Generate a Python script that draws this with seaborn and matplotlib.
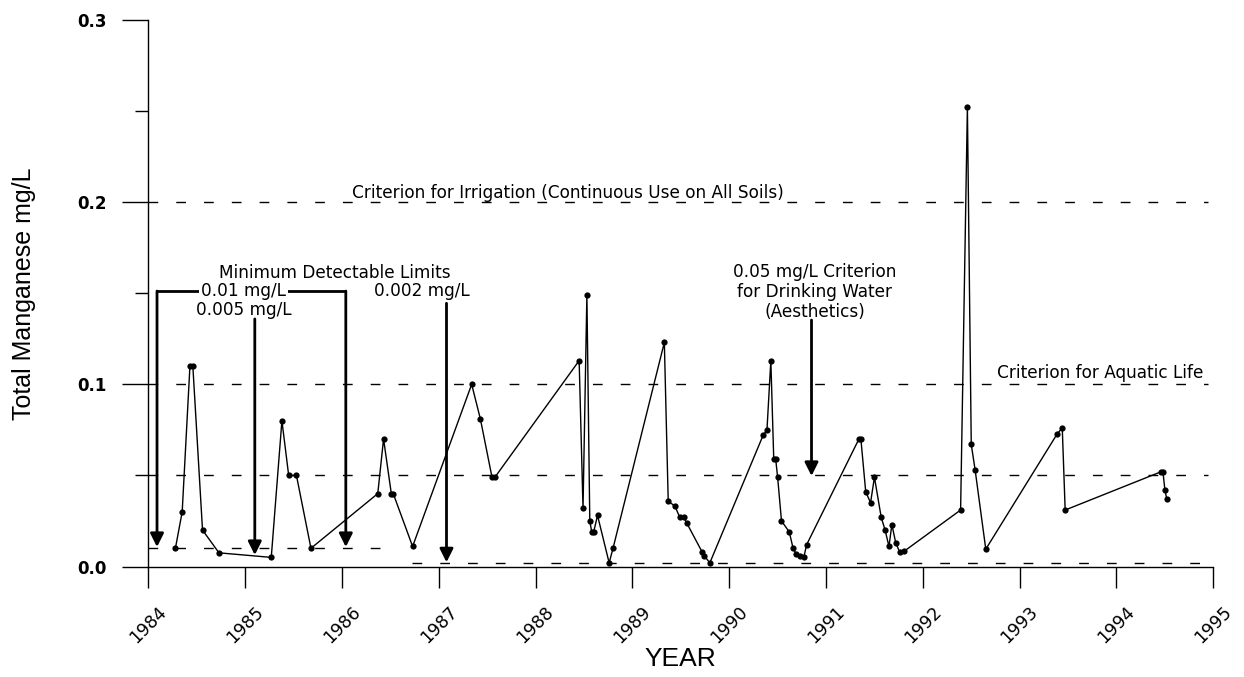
import matplotlib
matplotlib.use("Agg")
import matplotlib.pyplot as plt
import seaborn as sns
import pandas as pd

# ---- data ----
years = [
    1984.28, 1984.35, 1984.43, 1984.46, 1984.56, 1984.73, 1985.27, 1985.38, 1985.45, 1985.53,
    1985.68, 1986.37, 1986.43, 1986.51, 1986.53, 1986.73, 1987.34, 1987.43, 1987.55, 1987.58,
    1988.45, 1988.49, 1988.53, 1988.56, 1988.58, 1988.60, 1988.64, 1988.76, 1988.80,
    1989.33, 1989.37, 1989.44, 1989.49, 1989.53, 1989.56, 1989.72, 1989.74, 1989.80,
    1990.35, 1990.39, 1990.43, 1990.46, 1990.48, 1990.50, 1990.54, 1990.62, 1990.66, 1990.69,
    1990.73, 1990.77, 1990.80,
    1991.34, 1991.36, 1991.41, 1991.46, 1991.50, 1991.57, 1991.61, 1991.65, 1991.68, 1991.72,
    1991.76, 1991.81,
    1992.39, 1992.46, 1992.50, 1992.54, 1992.65,
    1993.39, 1993.44, 1993.47,
    1994.46, 1994.48, 1994.50, 1994.52,
]
manganese = [
    0.010, 0.030, 0.110, 0.110, 0.020, 0.0075, 0.005, 0.080, 0.050, 0.050,
    0.010, 0.040, 0.070, 0.040, 0.040, 0.011, 0.100, 0.081, 0.049, 0.049,
    0.113, 0.032, 0.149, 0.025, 0.019, 0.019, 0.028, 0.002, 0.010,
    0.123, 0.036, 0.033, 0.027, 0.027, 0.024, 0.008, 0.006, 0.002,
    0.072, 0.075, 0.113, 0.059, 0.059, 0.049, 0.025, 0.019, 0.010, 0.007,
    0.006, 0.005, 0.012,
    0.070, 0.070, 0.041, 0.035, 0.049, 0.027, 0.020, 0.011, 0.023, 0.013,
    0.008, 0.0085,
    0.031, 0.252, 0.067, 0.053, 0.0095,
    0.073, 0.076, 0.031,
    0.052, 0.052, 0.042, 0.037,
]
year_ticks = list(range(1984, 1996))
year_labels = [str(y) for y in year_ticks]
y_ticks = [0.0, 0.1, 0.2, 0.3]
y_labels = ["0.0", "0.1", "0.2", "0.3"]

# criteria / detection limits: (value, start year, end year)
criteria = [(0.2, 1984.0, 1994.95), (0.1, 1984.0, 1994.95), (0.05, 1984.0, 1994.95),
            (0.01, 1984.0, 1986.40), (0.002, 1986.72, 1994.95)]

df = pd.DataFrame({"year": years, "mn": manganese})

sns.set_style("ticks")
plt.rcParams["font.family"] = ["DejaVu Sans"]
plt.rcParams["text.color"] = "black"
plt.rcParams["axes.labelcolor"] = "black"
plt.rcParams["xtick.color"] = "black"
plt.rcParams["ytick.color"] = "black"

fig = plt.figure(figsize=(12.44, 6.77), dpi=100)
ax = fig.add_axes([148.3 / 1244, 1 - 566.5 / 677, (1213.3 - 148.3) / 1244, (566.5 - 20) / 677])

dash = (0, (7, 13))
for val, x0, x1 in criteria:
    ax.hlines(val, x0, x1, colors="black", linewidth=1.0, linestyles=[dash], zorder=1)

sns.lineplot(data=df, x="year", y="mn", ax=ax, color="black", linewidth=1.0,
             marker="o", markersize=4.5, markeredgewidth=0, estimator=None,
             sort=False, zorder=3)

ax.set_xlim(1984, 1995)
ax.set_ylim(0, 0.3)
sns.despine(ax=ax)
for s in ["left", "bottom"]:
    ax.spines[s].set_color("black")
    ax.spines[s].set_linewidth(1.0)

ax.set_xticks(year_ticks)
ax.set_xticklabels(year_labels, rotation=45, ha="center", fontsize=12.5, color="black")
ax.set_yticks(y_ticks)
ax.set_yticklabels(y_labels, fontsize=12, fontweight="bold", color="black")
ax.set_yticks([0.05, 0.15, 0.25], minor=True)
ax.tick_params(axis="x", direction="out", length=15, width=1, pad=11, colors="black")
ax.tick_params(axis="y", which="major", direction="out", length=19, width=1, pad=11, colors="black")
ax.tick_params(axis="y", which="minor", direction="out", length=9.5, width=1, colors="black")

ax.set_xlabel("YEAR", fontsize=19, family=["Liberation Sans", "DejaVu Sans"], color="black")
ax.xaxis.set_label_coords(0.5, -0.169)
ax.xaxis.label.set_verticalalignment("center")
ax.set_ylabel("Total Manganese mg/L", fontsize=18,
              family=["Liberation Sans", "DejaVu Sans"], color="black")
ax.yaxis.set_label_coords((24 - 148.3) / 1065, 0.5)
ax.yaxis.label.set_verticalalignment("center")

tfs = 12.2
kw = dict(color="black")
ax.text(1988.33, 0.2022, "Criterion for Irrigation (Continuous Use on All Soils)",
        ha="center", va="baseline", fontsize=tfs, zorder=2, **kw)
ax.text(1993.83, 0.1035, "Criterion for Aquatic Life", ha="center", va="baseline",
        fontsize=tfs, zorder=2, **kw)
ax.text(1985.93, 0.1582, "Minimum Detectable Limits", ha="center", va="baseline",
        fontsize=tfs, **kw)

# bracket for 0.01 mg/L
ax.plot([1984.09, 1986.04], [0.1512, 0.1512], color="black", lw=2, solid_capstyle="butt", zorder=4)
ax.text(1984.98, 0.1512, "0.01 mg/L", ha="center", va="center", fontsize=tfs, zorder=5,
        bbox=dict(facecolor="white", edgecolor="none", pad=1.5), **kw)
ax.text(1984.99, 0.1408, "0.005 mg/L", ha="center", va="center", fontsize=tfs, **kw)
ax.text(1986.83, 0.1512, "0.002 mg/L", ha="center", va="center", fontsize=tfs, **kw)
ax.text(1990.88, 0.1505, "0.05 mg/L Criterion\nfor Drinking Water\n(Aesthetics)",
        ha="center", va="center", fontsize=tfs, linespacing=1.15, **kw)

arrows = [
    (1984.09, 0.1512, 0.0107),
    (1986.04, 0.1512, 0.0107),
    (1985.10, 0.1359, 0.0063),
    (1987.08, 0.1445, 0.0023),
    (1990.85, 0.1353, 0.0497),
]
for x, ytop, ytip in arrows:
    ax.annotate("", xy=(x, ytip), xytext=(x, ytop),
                arrowprops=dict(arrowstyle="-|>", color="black", lw=2,
                                mutation_scale=20, shrinkA=0, shrinkB=0),
                zorder=4)

fig.savefig("out.png", dpi=100)
